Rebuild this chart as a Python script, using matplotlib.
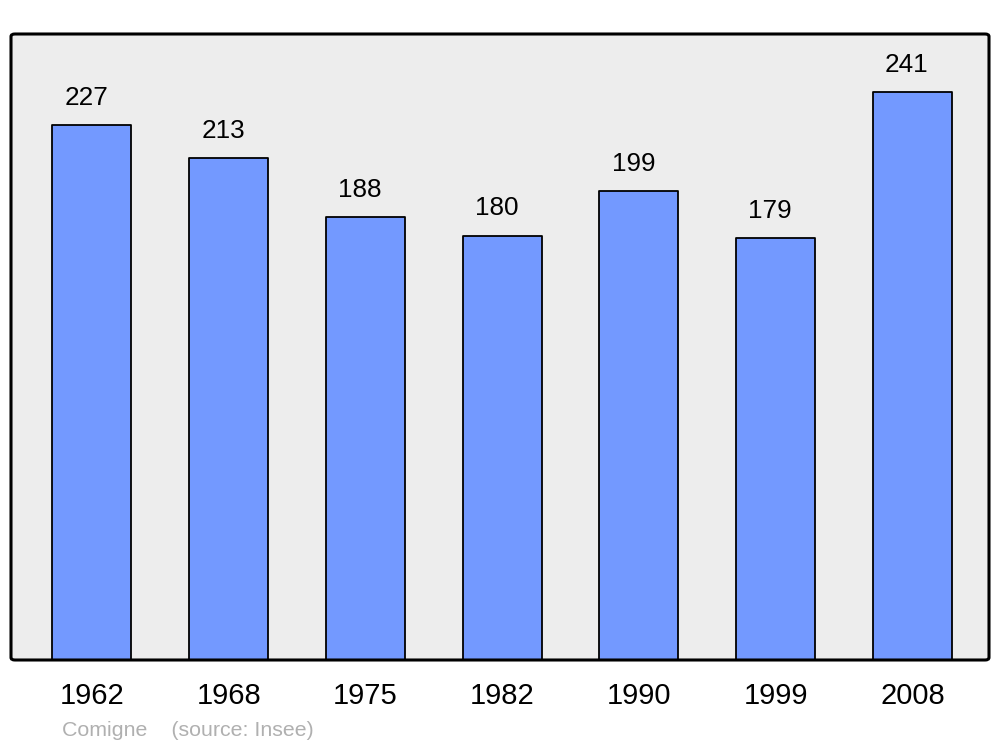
import matplotlib
matplotlib.use("Agg")
from matplotlib import pyplot as plt
from matplotlib.patches import FancyBboxPatch

years = ["1962", "1968", "1975", "1982", "1990", "1999", "2008"]
population = [227, 213, 188, 180, 199, 179, 241]

plt.rcParams["font.family"] = ["Liberation Sans", "DejaVu Sans"]

fig = plt.figure(figsize=(10, 7.47), dpi=100)
ax = fig.add_axes([0.011, 1 - 660 / 747, 0.978, 626 / 747])
ax.set_facecolor("#ededed")

pos = list(range(len(years)))
bars = ax.bar(pos, population, width=0.578, color="#7399ff",
              edgecolor="black", linewidth=1.3, zorder=2)
for b in bars:
    b.set_joinstyle("round")

for x, v in zip(pos, population):
    ax.annotate(str(v), (x, v), xytext=(-4, 11), textcoords="offset points",
                ha="center", va="bottom", fontsize=18.8)

ax.set_xlim(-0.592, 6.56)
ax.set_ylim(0, 265.6)
ax.set_xticks(pos)
ax.set_xticklabels(years, fontsize=21)
ax.tick_params(axis="x", length=0, pad=16)
ax.set_yticks([])

for s in ax.spines.values():
    s.set_visible(False)
frame = FancyBboxPatch((0, 0), 1, 1, boxstyle="round,pad=0,rounding_size=0.004",
                       transform=ax.transAxes, facecolor="none",
                       edgecolor="black", linewidth=2.2, clip_on=False, zorder=3)
ax.add_patch(frame)

fig.text(0.062, 1 - 730 / 747, "Comigne    (source: Insee)", fontsize=15.4,
         color="#b0b0b0", ha="left", va="center")

fig.savefig("out.png", dpi=100)
